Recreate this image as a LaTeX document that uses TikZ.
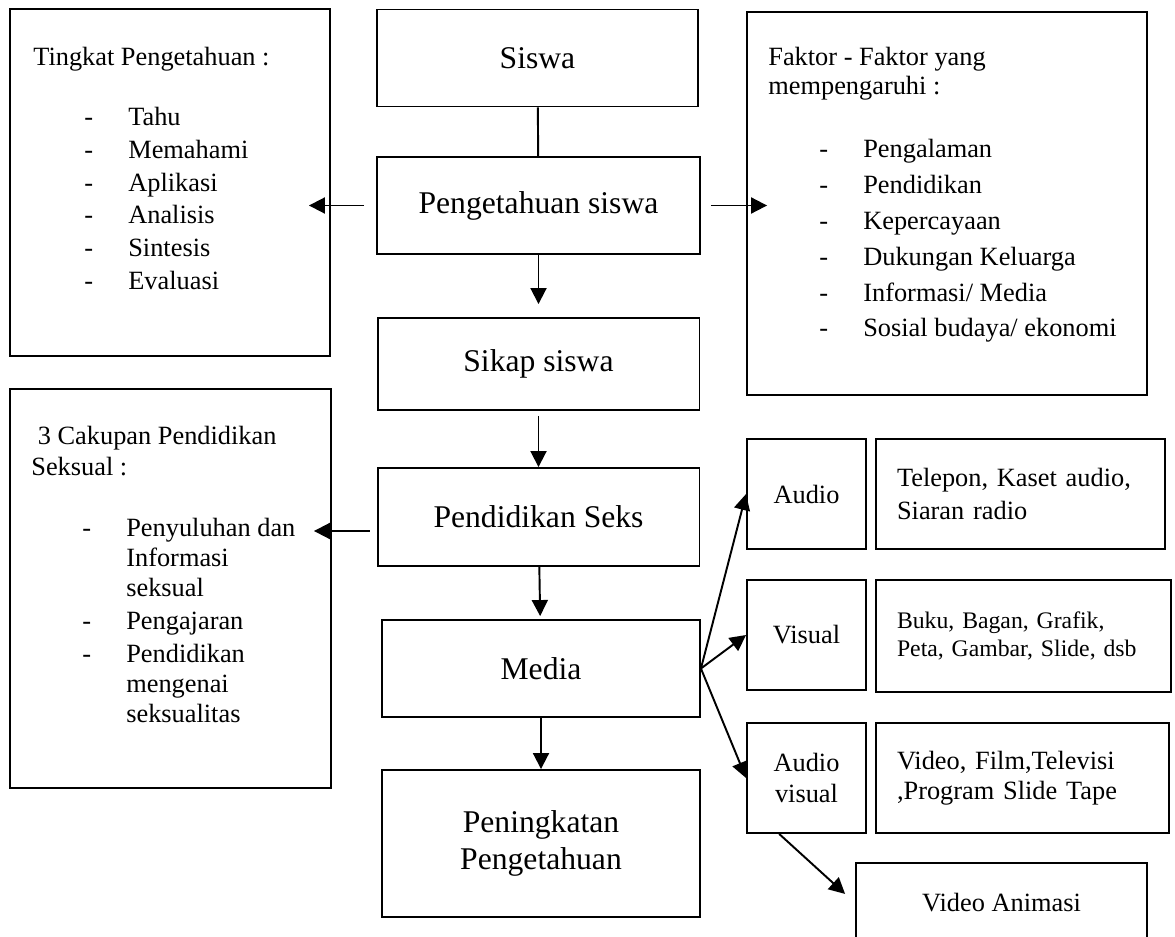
\documentclass[tikz,border=0pt]{standalone}
\usepackage{fontspec}
\setmainfont{Liberation Serif}
\usetikzlibrary{arrows.meta}
\usetikzlibrary{positioning}

\newcommand{\dashitem}[1]{\makebox[1.9cm][l]{\hspace*{1.02cm}-}#1}
\newcommand{\moreitem}[1]{\hspace*{1.9cm}#1}

\begin{document}
\begin{tikzpicture}[x=0.02cm, y=-0.02cm,
  box/.style={draw, rectangle, line width=1.1pt, inner sep=0pt},
  bigbox/.style={box, minimum width=6.44cm, minimum height=1.94cm, align=center, font=\fontsize{18}{21}\selectfont},
  kindbox/.style={box, minimum width=2.38cm, minimum height=2.2cm, align=center, font=\fontsize{15}{18}\selectfont},
  examplebox/.style={box, minimum height=2.2cm, align=left, inner xsep=0.42cm, font=\fontsize{15}{19.3}\selectfont},
  listtext/.style={anchor=north west, inner sep=0pt, align=left, font=\fontsize{15}{18.7}\selectfont},
  arr/.style={-{Triangle[width=0.32cm,length=0.32cm]}, line width=1.1pt}]
            \useasboundingbox (0,0) rectangle (1175,936);

            % Main flow in the middle
            \node[bigbox, minimum width=6.42cm] (siswa) at (537.5,58) {Siswa};
            \node[bigbox, minimum width=6.46cm] (tahu) at (538.5,205.5) {Pengetahuan siswa};
            \node[bigbox, minimum height=1.84cm] (sikap) at (538.5,364) {Sikap siswa};
            \node[bigbox, minimum height=1.96cm] (seks) at (538.5,517) {Pendidikan Seks};
            \node[bigbox, minimum width=6.36cm] (media) at (541,668.5) {Media};
            \node[bigbox, minimum width=6.36cm, minimum height=2.94cm] (naik) at (541,843.5) {Peningkatan\\Pengetahuan};

            % Side boxes with lists
            \node[box, minimum width=6.4cm, minimum height=6.94cm] (tingkat) at (170,182.5) {};
            \node[listtext] (tingkattxt) at (33,47) {Tingkat Pengetahuan :\\[15.3pt]%
              \dashitem{Tahu}\\\dashitem{Memahami}\\\dashitem{Aplikasi}\\%
              \dashitem{Analisis}\\\dashitem{Sintesis}\\\dashitem{Evaluasi}};
            \node[box, minimum width=8cm, minimum height=7.66cm] (faktor) at (947,203.5) {};
            \node[listtext, font=\fontsize{15}{20.4}\selectfont] (faktortxt) at (768,47) {Faktor - Faktor yang\\[-3.7pt]mempengaruhi :\\[15.3pt]%
              \dashitem{Pengalaman}\\\dashitem{Pendidikan}\\\dashitem{Kepercayaan}\\%
              \dashitem{Dukungan Keluarga}\\\dashitem{Informasi/ Media}\\\dashitem{Sosial budaya/ ekonomi}};
            \node[box, minimum width=6.42cm, minimum height=7.98cm] (cakupan) at (170.5,588.5) {};
            \node[listtext, font=\fontsize{15}{17}\selectfont] (cakupantxt) at (31,426) {\hspace*{0.13cm}3 Cakupan Pendidikan\\[0.6pt]Seksual :\\[17.6pt]%
              \dashitem{Penyuluhan dan}\\\moreitem{Informasi}\\\moreitem{seksual}\\[2pt]%
              \dashitem{Pengajaran}\\[2pt]\dashitem{Pendidikan}\\\moreitem{mengenai}\\\moreitem{seksualitas}};

            % Kinds of media
            \node[kindbox] (audio) at (806.5,494) {Audio};
            \node[kindbox] (visual) at (806.5,635) {Visual};
            \node[kindbox] (av) at (806.5,778) {Audio\\visual};
            \node[examplebox, text width=4.94cm] (telepon) at (1020.5,494) {Telepon, Kaset audio,\\Siaran radio};
            \node[examplebox, text width=5.06cm, minimum height=2.24cm, font=\fontsize{13.5}{15.9}\selectfont] (buku) at (1023.5,636) {Buku, Bagan, Grafik,\\Peta, Gambar, Slide, dsb\\[-0.25cm]};
            \node[examplebox, text width=5.02cm, font=\fontsize{15}{17}\selectfont] (video) at (1022.5,778) {Video, Film,Televisi\\,Program Slide Tape};
            \node[box, minimum width=5.82cm, minimum height=1.6cm, font=\fontsize{15}{18}\selectfont] (animasi) at (1001.5,903) {Video Animasi};

            % Connectors
            \draw[line width=1.1pt] (siswa) -- (tahu);
            \draw[arr, shorten <=0.24cm, shorten >=-0.44cm] (tahu.west) -- (tahu.west -| tingkat.east);
            \draw[arr, shorten <=0.2cm, shorten >=-0.42cm] (tahu.east) -- (tahu.east -| faktor.west);
            \draw[arr, shorten >=0.26cm] (tahu) -- (sikap);
            \draw[arr, shorten <=0.1cm] (sikap) -- (seks);
            \draw[arr, shorten <=0.14cm, shorten >=-0.36cm] ([yshift=-0.28cm]seks.west) -- ([yshift=-0.28cm]seks.west -| cakupan.east);
            \draw[arr, shorten >=0.06cm] (seks) -- (media);
            \draw[arr] (media) -- (naik);
            \draw[arr] (media.east) -- (audio.west);
            \draw[arr] (media.east) -- (visual.west);
            \draw[arr] (media.east) -- (av.west);
            \draw[arr, shorten >=0.27cm] (av.244) -- (animasi.west);
        \end{tikzpicture}
\end{document}
